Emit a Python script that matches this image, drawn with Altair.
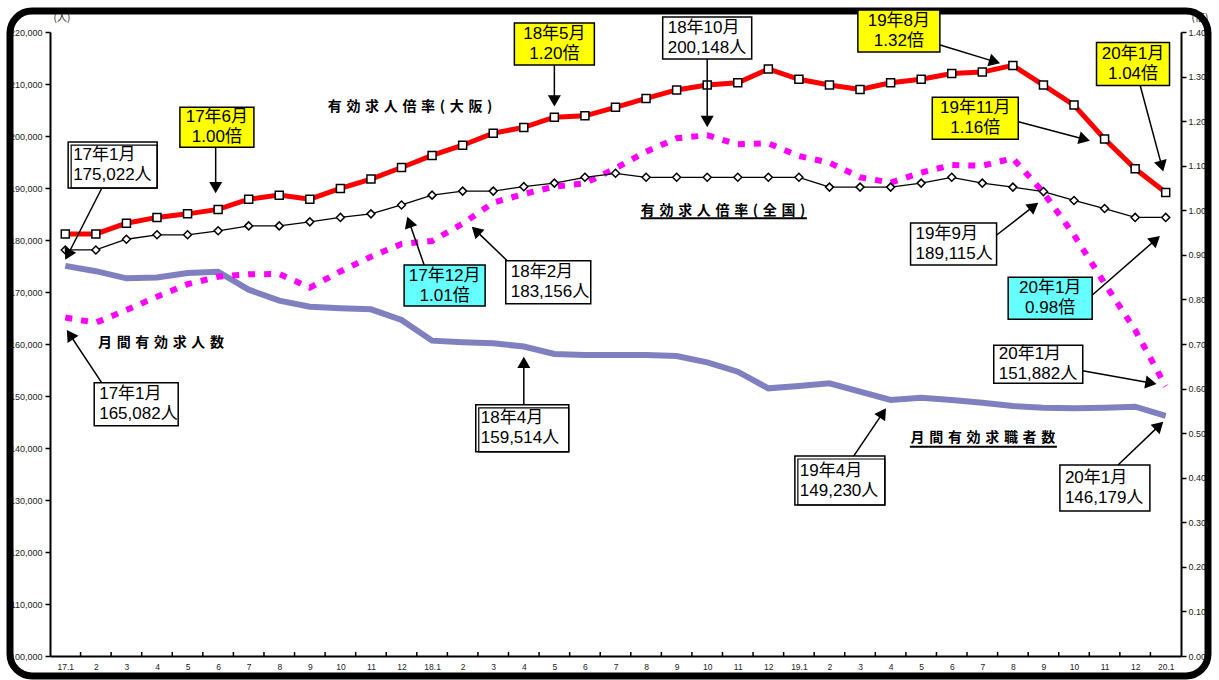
import math
import altair as alt
import pandas as pd

# ---------------- data ----------------
month_labels = ["17.1", "2", "3", "4", "5", "6", "7", "8", "9", "10", "11", "12",
                "18.1", "2", "3", "4", "5", "6", "7", "8", "9", "10", "11", "12",
                "19.1", "2", "3", "4", "5", "6", "7", "8", "9", "10", "11", "12",
                "20.1"]

# 有効求人倍率(大阪)  (right axis, 倍)
osaka_ratio = [0.947, 0.947, 0.971, 0.984, 0.992, 1.002, 1.025, 1.034, 1.025, 1.049,
               1.070, 1.096, 1.123, 1.146, 1.173, 1.186, 1.209, 1.212, 1.231, 1.251,
               1.270, 1.281, 1.286, 1.317, 1.294, 1.281, 1.271, 1.286, 1.294, 1.307,
               1.310, 1.325, 1.281, 1.236, 1.160, 1.093, 1.040]

# 有効求人倍率(全国)  (right axis, 倍)
national_ratio = [0.911, 0.911, 0.935, 0.945, 0.945, 0.954, 0.965, 0.965, 0.974, 0.984,
                  0.992, 1.012, 1.034, 1.043, 1.043, 1.053, 1.061, 1.074, 1.083, 1.074,
                  1.074, 1.074, 1.074, 1.074, 1.074, 1.052, 1.052, 1.052, 1.061, 1.074,
                  1.061, 1.052, 1.042, 1.022, 1.004, 0.984, 0.984]

# 月間有効求人数  (left axis, 人)
job_offers = [165082, 164100, 166540, 169100, 171500, 172940, 173400, 173460, 170850, 173950,
              176790, 179230, 179810, 183156, 187180, 188850, 190260, 190900, 193780, 196980,
              199560, 200148, 198400, 198590, 196150, 194870, 192060, 191030, 192960, 194420,
              194290, 195710, 189115, 180960, 171670, 162690, 151882]

# 月間有効求職者数  (left axis, 人)
job_seekers = [175022, 174000, 172630, 172800, 173650, 173900, 170450, 168330, 167180, 166860,
               166670, 164620, 160640, 160320, 160130, 159514, 158080, 157880, 157880, 157880,
               157690, 156480, 154670, 151470, 151920, 152440, 150830, 149230, 149680, 149230,
               148720, 148080, 147760, 147630, 147760, 147950, 146179]

left_ticks = list(range(100000, 220001, 10000))
right_ticks = [round(i * 0.1, 1) for i in range(15)]

# annotation callouts: line1, line2, box fill, box centre (month, 人-value),
# box size (px), arrow start (month, value), arrow tip (month, value), double frame
annotations = [
    ("17年1月", "175,022人", "white", 1.55, 194400, 89, 46, 1.19, 189900, 0.00, 176200, True),
    ("17年6月", "1.00倍", "#FFFF00", 4.96, 201700, 74, 40, 4.92, 197900, 4.92, 189000, False),
    ("18年5月", "1.20倍", "#FFFF00", 16.0, 217700, 80, 42, 16.0, 213650, 16.0, 205650, False),
    ("18年10月", "200,148人", "white", 21.0, 218850, 89, 42, 21.0, 214800, 21.0, 201700, False),
    ("19年8月", "1.32倍", "#FFFF00", 27.27, 220200, 82, 42, 28.62, 217500, 30.58, 213980, False),
    ("20年1月", "1.04倍", "#FFFF00", 34.93, 213850, 73, 43, 35.16, 209800, 35.92, 193150, False),
    ("19年11月", "1.16倍", "#FFFF00", 29.77, 203400, 86, 42, 31.18, 202750, 33.52, 199100, False),
    ("19年9月", "189,115人", "white", 29.06, 179230, 86, 42, 30.47, 180960, 31.83, 187170, False),
    ("20年1月", "0.98倍", "#66FFFF", 32.22, 168790, 84, 42, 33.60, 169420, 35.81, 180770, False),
    ("20年1月", "151,882人", "white", 31.83, 156120, 89, 38, 33.28, 154870, 35.70, 152310, False),
    ("20年1月", "146,179人", "white", 34.01, 132310, 90, 46, 34.44, 136730, 35.92, 145060, False),
    ("19年4月", "149,230人", "white", 25.34, 133750, 90, 49, 25.78, 138330, 26.85, 147640, True),
    ("18年4月", "159,514人", "white", 14.95, 143790, 93, 47, 15.0, 148270, 15.0, 157560, True),
    ("18年2月", "183,156人", "white", 15.80, 171870, 85, 43, 14.49, 175830, 13.30, 182560, False),
    ("17年12月", "1.01倍", "#66FFFF", 12.41, 171250, 81, 41, 11.74, 175190, 11.19, 184480, False),
    ("17年1月", "165,082人", "white", 2.32, 148400, 84, 43, 1.19, 152560, 0.05, 162690, False),
]

# series labels: text, centre month, centre value, underline (from, to, value) or None
series_labels = [
    ("有効求人倍率(大阪)", 11.28, 205580, None),
    ("有効求人倍率(全国)", 21.52, 185580, (18.82, 24.26, 184170)),
    ("月間有効求職者数", 30.02, 141830, (27.63, 32.44, 140250)),
    ("月間有効求人数", 3.13, 160140, None),
]

# ---------------- layout ----------------
W, H = 1131, 624
N = len(month_labels)
STEP = W / N
L_DOM = [left_ticks[0], left_ticks[-1]]
R_DOM = [right_ticks[0], right_ticks[-1]]
VPP = (L_DOM[1] - L_DOM[0]) / H
FONT = "Liberation Sans, Noto Sans CJK JP"
JP = "Noto Sans CJK JP"
HEAD_SIZE = 170
HEAD_BACK = 0.433 * math.sqrt(HEAD_SIZE)

df = pd.DataFrame({"m": list(range(N)), "osaka": osaka_ratio, "national": national_ratio,
                   "offers": job_offers, "seekers": job_seekers})

xs = alt.Scale(domain=[-0.5, N - 0.5], nice=False, zero=False)
ls = alt.Scale(domain=L_DOM, nice=False, zero=False)
rs = alt.Scale(domain=R_DOM, nice=False, zero=False)

js_labels = "[" + ",".join("'" + l + "'" for l in month_labels) + "]"
x_axis = alt.Axis(values=list(range(N)), labelExpr=js_labels + "[datum.value]", ticks=False,
                  domainColor="black", domainWidth=2, labelFontSize=8.5, labelPadding=6,
                  labelColor="#222", labelFont="Liberation Sans", title=None, grid=False,
                  labelAngle=0, labelOverlap=False, labelFlush=False)
left_axis = alt.Axis(values=left_ticks, format=",.0f", tickSize=5, tickColor="black",
                     tickWidth=1.5, domainColor="black", domainWidth=2, labelFontSize=9,
                     labelPadding=3, labelColor="#222", labelFont="Liberation Sans", grid=False,
                     labelOverlap=False,
                     title="(人)", titleAngle=0, titleX=3, titleY=-15, titleAlign="left",
                     titleBaseline="middle", titleFontSize=10, titleFontWeight="normal",
                     titleFont=JP, titleColor="#222")
right_axis = alt.Axis(values=right_ticks, format=".2f", orient="right", tickSize=5,
                      tickColor="black", tickWidth=1.5, domainColor="black", domainWidth=2,
                      labelFontSize=9, labelPadding=2, labelColor="#222",
                      labelFont="Liberation Sans", grid=False, labelOverlap=False,
                      title="(倍)", titleAngle=0, titleX=10, titleY=-15, titleAlign="left",
                      titleBaseline="middle", titleFontSize=10, titleFontWeight="normal",
                      titleFont=JP, titleColor="#222")


def X(field):
    # identical axis definition everywhere so the shared x axis merges cleanly
    return alt.X(field, type="quantitative", scale=xs, axis=x_axis)


def YL(field):
    return alt.Y(field, type="quantitative", scale=ls, axis=left_axis)


def YR(field):
    return alt.Y(field, type="quantitative", scale=rs, axis=right_axis)


def YA(field):
    # annotation group: its own (identical) scale, no axis of its own
    return alt.Y(field, type="quantitative", scale=ls, axis=None)


base = alt.Chart(df)

# ---------------- count series (left axis) ----------------
seekers_line = base.mark_line(color="#8080C0", strokeWidth=6).encode(
    x=X("m"), y=YL("seekers"))
offers_line = base.mark_line(color="#FF00FF", strokeWidth=6, strokeDash=[7, 9],
                             strokeCap="butt").encode(x=X("m"), y=YL("offers"))
counts = alt.layer(seekers_line, offers_line)

# ---------------- ratio series (right axis) ----------------
nat_line = base.mark_line(color="black", strokeWidth=1.3).encode(
    x=X("m"), y=YR("national"))
osaka_line = base.mark_line(color="#FF0000", strokeWidth=5).encode(x=X("m"), y=YR("osaka"))
nat_pts = base.mark_point(shape="diamond", size=64, filled=True, fill="white", stroke="black",
                          strokeWidth=1.5, opacity=1).encode(x=X("m"), y=YR("national"))
osaka_pts = base.mark_point(shape="square", size=64, filled=True, fill="white", stroke="black",
                            strokeWidth=1.5, opacity=1).encode(x=X("m"), y=YR("osaka"))
ratios = alt.layer(nat_line, osaka_line, nat_pts, osaka_pts)

# ---------------- annotations ----------------
rows = []
for (l1, l2, fill, cx, cv, bw, bh, sx, sv, tx, tv, dbl) in annotations:
    dxp = (tx - sx) * STEP
    dyp = -(tv - sv) / VPP
    length = math.hypot(dxp, dyp)
    ux, uy = dxp / length, dyp / length
    ang = (math.degrees(math.atan2(ux, -uy)) + 360.0) % 360.0
    hx = tx - ux * HEAD_BACK / STEP
    hv = tv + uy * HEAD_BACK * VPP
    x1 = cx - bw / 2 / STEP
    x2 = cx + bw / 2 / STEP
    y1 = cv - bh / 2 * VPP
    y2 = cv + bh / 2 * VPP
    left = fill == "white"
    rows.append(dict(l1=l1, l2=l2, fill=fill, cx=cx, cv=cv, x1=x1, x2=x2, y1=y1, y2=y2,
                     ix1=x1 + 3 / STEP, iy2=y2 - 3 * VPP, dbl=dbl,
                     tx=(x1 + 5 / STEP) if left else cx, left=left,
                     sx=sx, sv=sv, ex=hx, ev=hv, ang=ang))
adf = pd.DataFrame(rows)

arrows = alt.Chart(adf).mark_rule(color="black", strokeWidth=1.5).encode(
    x=X("sx"), x2="ex", y=YA("sv"), y2="ev")
heads = alt.Chart(adf).mark_point(shape="triangle-up", filled=True, color="black",
                                  size=HEAD_SIZE, opacity=1).encode(
    x=X("ex"), y=YA("ev"), angle=alt.Angle("ang:Q", scale=None))
boxes = alt.Chart(adf).mark_rect(stroke="black", strokeWidth=1.5).encode(
    x=X("x1"), x2="x2", y=YA("y1"), y2="y2", fill=alt.Fill("fill:N", scale=None))
inner = alt.Chart(adf[adf["dbl"]]).mark_rect(stroke="black", strokeWidth=1.2,
                                             fillOpacity=0).encode(
    x=X("ix1"), x2="x2", y=YA("y1"), y2="iy2")

txt_common = dict(font=FONT, fontSize=17, color="black", baseline="middle")
ldf = adf[adf["left"]]
cdf = adf[~adf["left"]]
t1l = alt.Chart(ldf).mark_text(align="left", dy=-10, **txt_common).encode(
    x=X("tx"), y=YA("cv"), text="l1")
t2l = alt.Chart(ldf).mark_text(align="left", dy=10, **txt_common).encode(
    x=X("tx"), y=YA("cv"), text="l2")
t1c = alt.Chart(cdf).mark_text(align="center", dy=-10, **txt_common).encode(
    x=X("tx"), y=YA("cv"), text="l1")
t2c = alt.Chart(cdf).mark_text(align="center", dy=10, **txt_common).encode(
    x=X("tx"), y=YA("cv"), text="l2")

SP = "\u2004"
sl_df = pd.DataFrame([dict(t=SP.join(list(t)), m=m, v=v) for (t, m, v, u) in series_labels])
ul_df = pd.DataFrame([dict(a=u[0], b=u[1], v=u[2]) for (t, m, v, u) in series_labels if u])
slabels = alt.Chart(sl_df).mark_text(font=JP, fontSize=14, fontWeight="bold", color="black",
                                     align="center", baseline="middle").encode(
    x=X("m"), y=YA("v"), text="t")
ulines = alt.Chart(ul_df).mark_rule(color="black", strokeWidth=2).encode(
    x=X("a"), x2="b", y=YA("v"))

tick_df = pd.DataFrame({"b": [i + 0.5 for i in range(N - 1)]})
xticks = alt.Chart(tick_df).mark_rule(color="black", strokeWidth=1.5).encode(
    x=X("b"), y=alt.value(H - 4), y2=alt.value(H))

frame = alt.Chart(pd.DataFrame({"k": [0]})).mark_rect(
    fillOpacity=0, stroke="black", strokeWidth=7, cornerRadius=22).encode(
    x=alt.value(-40), x2=alt.value(W + 27), y=alt.value(-21), y2=alt.value(H + 20))

annots = alt.layer(frame, xticks, arrows, heads, boxes, inner, t1l, t2l, t1c, t2c,
                   slabels, ulines)

chart = alt.layer(counts, ratios, annots).resolve_scale(y="independent").properties(
    width=W, height=H,
    padding={"left": 50, "top": 32, "right": 1219 - 50 - W, "bottom": 680 - 32 - H},
    autosize=alt.AutoSizeParams(type="none"),
    background="white",
).configure_view(stroke=None)

chart.save("out.html", embed_options={"renderer": "svg", "actions": False})
